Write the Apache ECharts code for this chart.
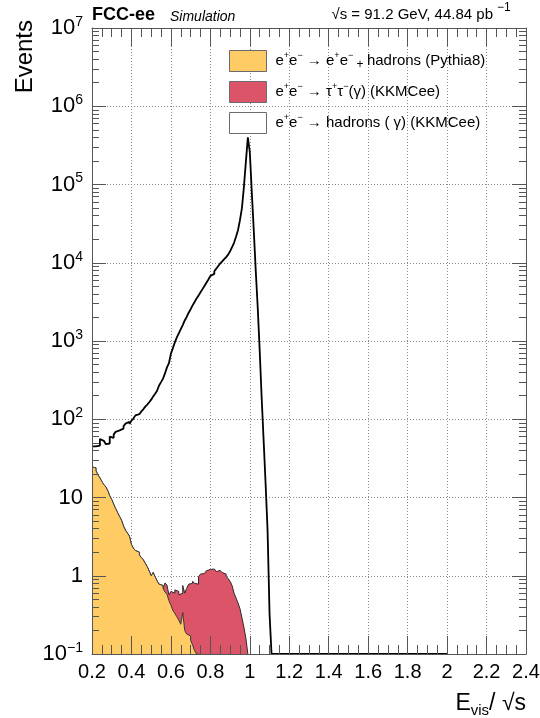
<!DOCTYPE html>
<html>
<head>
<meta charset="utf-8">
<title>Evis / sqrt(s)</title>
<script src="https://cdn.jsdelivr.net/npm/echarts@6/dist/echarts.min.js"></script>
<style>
  html, body { margin: 0; padding: 0; background: #ffffff; }
  #chart { width: 540px; height: 718px; }
</style>
</head>
<body>
<div id="chart"></div>
<script>
// ---- binning -------------------------------------------------------------
const BIN_WIDTH = 0.01;     // bin width in units of Evis/sqrt(s)
const HIST_END = 2.0;       // upper edge of the histogrammed range

// e+e- -> hadrons (gamma), KKMCee; first bin starts at 0.20
const HADRONS_START = 0.20;
const hadrons = [
  45, 45, 44, 46, 56, 53, 50, 48, 49, 60,
  58, 64, 69, 72, 70, 76, 82, 88, 93, 87,
  96, 102, 112, 116, 118, 126, 134, 145, 154, 165,
  178, 195, 212, 232, 270, 298, 330, 385, 460, 520,
  690, 810, 960, 1110, 1250, 1420, 1600, 1830, 2030, 2300,
  2550, 2850, 3150, 3490, 3800, 4200, 4600, 5050, 5560, 6100,
  6800, 7200, 7800, 8400, 9100, 9800, 10400, 11100, 11800, 12700,
  14000, 15800, 18000, 21500, 26000, 35000, 50000, 93000, 195000, 400000,
  260000, 80000, 26000, 8000, 2700, 760, 190, 54, 15, 3.8,
  0.33
];

// e+e- -> e+e- + hadrons, Pythia8; first bin starts at 0.20
const GAMMAGAMMA_START = 0.20;
const gammaGamma = [
  24.5, 24, 22, 19.5, 17.8, 16, 14.6, 13.7, 12.2, 10.5,
  9.4, 8.2, 7.2, 6.4, 5.7, 5.1, 4.3, 3.8, 3.5, 3.2,
  2.5, 2.25, 2.1, 2.0, 1.85, 1.7, 1.6, 1.44, 1.3, 1.15,
  1.0, 1.1, 0.97, 0.86, 0.78, 0.75, 0.69, 0.62, 0.58, 0.48,
  0.42, 0.36, 0.33, 0.30, 0.27, 0.24, 0.34, 0.20, 0.18, 0.17,
  0.15, 0.13, 0.11, 0.08
];

// e+e- -> tau+ tau- (gamma), KKMCee; first bin starts at 0.57
const TAUTAU_START = 0.57;
const tauTau = [
  0.19, 0.18, 0.09, 0.21, 0.24, 0.33, 0.33, 0.30, 0.36, 0.41,
  0.40, 0.51, 0.61, 0.65, 0.72, 0.69, 0.70, 0.97, 1.05, 1.07,
  1.13, 1.16, 1.20, 1.18, 1.22, 1.16, 1.13, 1.17, 1.13, 1.10,
  1.05, 0.98, 0.92, 0.85, 0.75, 0.60, 0.52, 0.45, 0.38, 0.29,
  0.22, 0.16
];

// ---- axes ----------------------------------------------------------------
const X_MIN = 0.2, X_MAX = 2.4, X_STEP = 0.2;
const Y_MIN = 0.1, Y_MAX = 1e7;
const yDecades = [0.1, 1, 10, 100, 1e3, 1e4, 1e5, 1e6, 1e7];
const yMinorMultipliers = [2, 3, 4, 5, 6, 7, 8, 9];

const FONT = "'Liberation Sans', Arial, Helvetica, sans-serif";
const YELLOW = '#FECB65';
const RED = '#DC5468';
const FRAME = '#555555';
const GRID = '#8a8a8a';

// minor ticks of the log axis: 2..9 x each decade
const yMinor = [];
yDecades.slice(0, -1).forEach(d => yMinorMultipliers.forEach(m => yMinor.push(+(d * m).toPrecision(3))));

// ---- histogram -> outline polyline (flat top per bin, vertical edges) -----
const edge = (start, i) => +(start + i * BIN_WIDTH).toFixed(4);
const floorAt = v => Math.max(v, Y_MIN);   // empty / tiny bins sit on the frame, as in ROOT

function histOutline(start, values, runOutTo) {
  const pts = [];
  values.forEach((v, i) => {
    const y = floorAt(v);
    pts.push([edge(start, i), y], [edge(start, i + 1), y]);
  });
  const end = edge(start, values.length);
  pts.push([end, Y_MIN]);
  if (runOutTo && runOutTo > end) pts.push([runOutTo, Y_MIN]);
  return pts;
}

// cumulative stack: e+e- hadrons (Pythia8) + tau tau
const tauOffset = Math.round((TAUTAU_START - GAMMAGAMMA_START) / BIN_WIDTH);
const stackLen = Math.max(gammaGamma.length, tauOffset + tauTau.length);
const stackTotal = [];
for (let k = 0; k < stackLen; k++) {
  const gg = k < gammaGamma.length ? gammaGamma[k] : 0;
  const tt = (k >= tauOffset && k - tauOffset < tauTau.length) ? tauTau[k - tauOffset] : 0;
  stackTotal.push(+(gg + tt).toFixed(4));
}

// ---- labels ----------------------------------------------------------------
function decadeLabel(v) {
  const e = Math.round(Math.log10(v));
  if (e === 0) return '{m|1}';
  if (e === 1) return '{m|10}';
  return '{m|10}{e|' + (e < 0 ? '\u2212' + (-e) : String(e)) + '}';
}

const legendText = {
  gg: '{t|e}{s|+}{t|e}{s|\u2212}{t| \u2192 e}{s|+}{t|e}{s|\u2212}{p| + }{t|hadrons (Pythia8)}',
  tt: '{t|e}{s|+}{t|e}{s|\u2212}{t| \u2192 \u03c4}{s|+}{t|\u03c4}{s|\u2212}{t|(\u03b3) (KKMCee)}',
  qq: '{t|e}{s|+}{t|e}{s|\u2212}{t| \u2192 hadrons ( \u03b3) (KKMCee)}'
};

// ---- chart ---------------------------------------------------------------
const chart = echarts.init(document.getElementById('chart'), null, { renderer: 'canvas' });

const xBase = { type: 'value', min: X_MIN, max: X_MAX, interval: X_STEP, gridIndex: 0 };
const yBase = { type: 'log', logBase: 10, min: Y_MIN, max: Y_MAX, gridIndex: 0 };
const hidden = { show: false };
const frameLine = { show: true, onZero: false, lineStyle: { color: FRAME, width: 1 } };
const tickStyle = { color: FRAME, width: 1 };

chart.setOption({
  animation: false,
  backgroundColor: '#ffffff',
  textStyle: { fontFamily: FONT },
  grid: { left: 92, right: 14, top: 28, bottom: 64, containLabel: false, outerBoundsMode: 'none' },
  xAxis: [
    // grid lines, beneath the histograms
    Object.assign({}, xBase, {
      position: 'bottom', z: 0,
      axisLine: hidden, axisTick: hidden, axisLabel: hidden,
      splitLine: { show: true, lineStyle: { color: GRID, width: 1, type: [1, 2] } }
    }),
    // bottom axis with labels and ticks, over the histograms
    Object.assign({}, xBase, {
      position: 'bottom', z: 5,
      axisLine: frameLine,
      axisTick: { show: true, inside: true, length: 18, lineStyle: tickStyle },
      minorTick: { show: true, splitNumber: 4, length: 9, lineStyle: tickStyle },
      axisLabel: {
        show: true, margin: 8, color: '#000', fontSize: 20, fontFamily: FONT,
        showMinLabel: true, showMaxLabel: true
      },
      splitLine: hidden
    }),
    // mirrored ticks along the top
    Object.assign({}, xBase, {
      position: 'top', z: 5,
      axisLine: frameLine,
      axisTick: { show: true, inside: true, length: 18, lineStyle: tickStyle },
      minorTick: { show: true, splitNumber: 4, length: 9, lineStyle: tickStyle },
      axisLabel: hidden, splitLine: hidden
    })
  ],
  yAxis: [
    Object.assign({}, yBase, {
      position: 'left', z: 0,
      axisLine: hidden, axisTick: hidden, axisLabel: hidden,
      splitLine: { show: true, lineStyle: { color: GRID, width: 1, type: [1, 2] } }
    }),
    Object.assign({}, yBase, {
      position: 'left', z: 5,
      axisLine: frameLine,
      axisTick: { show: true, inside: true, length: 14, lineStyle: tickStyle, customValues: yDecades },
      axisLabel: {
        show: true, margin: 9, customValues: yDecades, formatter: decadeLabel,
        rich: {
          m: { fontSize: 22, color: '#000', fontFamily: FONT, lineHeight: 26 },
          e: { fontSize: 14, color: '#000', fontFamily: FONT, verticalAlign: 'top', lineHeight: 14 }
        }
      },
      splitLine: hidden
    }),
    Object.assign({}, yBase, {
      position: 'left', z: 5,
      axisLine: hidden,
      axisTick: { show: true, inside: true, length: 7, lineStyle: tickStyle, customValues: yMinor },
      axisLabel: hidden, splitLine: hidden
    }),
    Object.assign({}, yBase, {
      position: 'right', z: 5,
      axisLine: frameLine,
      axisTick: { show: true, inside: true, length: 14, lineStyle: tickStyle, customValues: yDecades },
      axisLabel: hidden, splitLine: hidden
    }),
    Object.assign({}, yBase, {
      position: 'right', z: 5,
      axisLine: hidden,
      axisTick: { show: true, inside: true, length: 7, lineStyle: tickStyle, customValues: yMinor },
      axisLabel: hidden, splitLine: hidden
    })
  ],
  legend: {
    orient: 'vertical', left: 229, top: 50,
    itemWidth: 37, itemHeight: 21, itemGap: 9,
    selectedMode: false, padding: 0,
    formatter: name => '{g|}' + legendText[name],
    textStyle: {
      color: '#000', fontFamily: FONT, fontSize: 15,
      rich: {
        g: { width: 4 },
        t: { fontSize: 15, color: '#000', fontFamily: FONT, lineHeight: 20 },
        p: { fontSize: 12, color: '#000', fontFamily: FONT, verticalAlign: 'bottom', lineHeight: 16 },
        s: { fontSize: 9, color: '#000', fontFamily: FONT, verticalAlign: 'top', lineHeight: 12 }
      }
    },
    data: [
      { name: 'gg', icon: 'rect', itemStyle: { color: YELLOW, borderColor: '#6b6b6b', borderWidth: 1 } },
      { name: 'tt', icon: 'rect', itemStyle: { color: RED, borderColor: '#6b6b6b', borderWidth: 1 } },
      { name: 'qq', icon: 'rect', itemStyle: { color: '#ffffff', borderColor: '#6b6b6b', borderWidth: 1 } }
    ]
  },
  series: [
    {
      name: 'tt', type: 'line', xAxisIndex: 0, yAxisIndex: 0, z: 2,
      showSymbol: false, symbol: 'none', clip: true,
      data: histOutline(GAMMAGAMMA_START, stackTotal),
      lineStyle: { color: '#2b2b2b', width: 1 },
      itemStyle: { color: RED },
      areaStyle: { color: RED, opacity: 1, origin: 'start' }
    },
    {
      name: 'gg', type: 'line', xAxisIndex: 0, yAxisIndex: 0, z: 3,
      showSymbol: false, symbol: 'none', clip: true,
      data: histOutline(GAMMAGAMMA_START, gammaGamma),
      lineStyle: { color: '#3a3a3a', width: 1 },
      itemStyle: { color: YELLOW },
      areaStyle: { color: YELLOW, opacity: 1, origin: 'start' }
    },
    {
      name: 'qq', type: 'line', xAxisIndex: 0, yAxisIndex: 0, z: 4,
      showSymbol: false, symbol: 'none', clip: true,
      data: histOutline(HADRONS_START, hadrons, HIST_END),
      lineStyle: { color: '#000000', width: 1.8 },
      itemStyle: { color: '#000000' }
    }
  ],
  graphic: [
    { type: 'text', x: 92, y: 6, style: { text: 'FCC-ee', font: 'bold 18px ' + FONT, fill: '#000', verticalAlign: 'top' } },
    { type: 'text', x: 170, y: 10, style: { text: 'Simulation', font: 'italic 14px ' + FONT, fill: '#000', verticalAlign: 'top' } },
    { type: 'text', x: 493, y: 7, style: { text: '\u221As = 91.2 GeV, 44.84 pb', font: '15px ' + FONT, fill: '#000', align: 'right', verticalAlign: 'top' } },
    { type: 'text', x: 497, y: 2, style: { text: '\u22121', font: '12px ' + FONT, fill: '#000', verticalAlign: 'top' } },
    { type: 'text', x: 25, y: 20, rotation: Math.PI / 2, style: { text: 'Events', font: '24px ' + FONT, fill: '#000', align: 'right', verticalAlign: 'middle' } },
    {
      type: 'text', x: 526, y: 690,
      style: {
        text: '{n|E}{b|vis}{n|/ \u221As}', align: 'right', verticalAlign: 'top',
        rich: {
          n: { fontSize: 23, fontFamily: FONT, fill: '#000', lineHeight: 28 },
          b: { fontSize: 15, fontFamily: FONT, fill: '#000', verticalAlign: 'bottom', lineHeight: 15 }
        }
      }
    }
  ]
});
</script>
</body>
</html>
